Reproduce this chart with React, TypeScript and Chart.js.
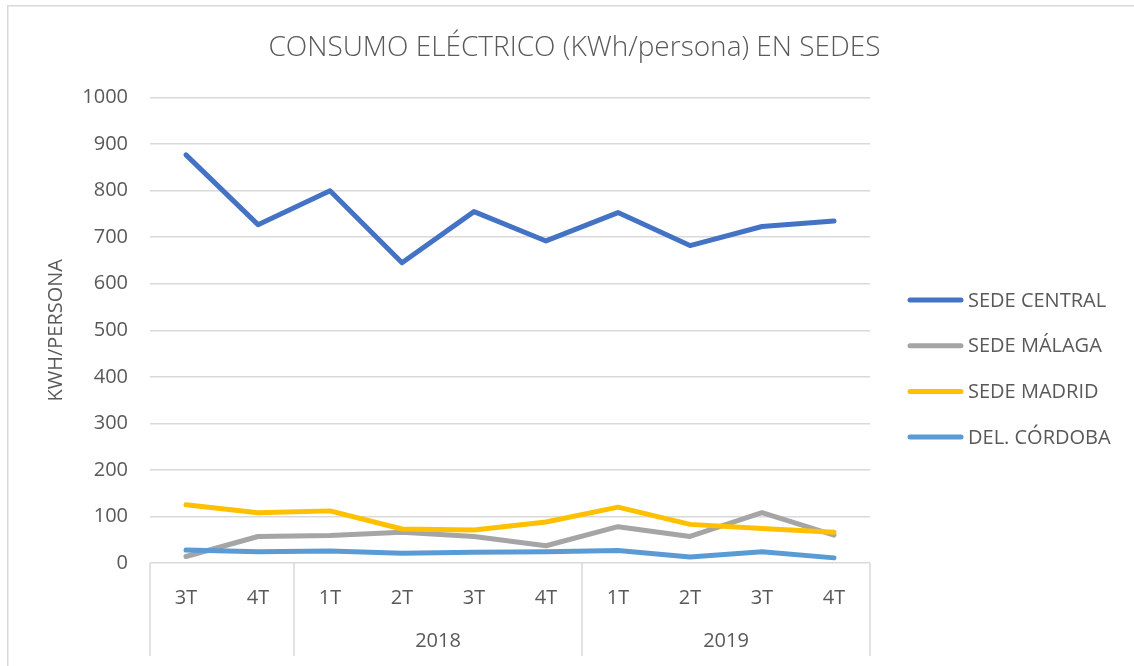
import React, { useEffect, useRef } from "react";
import { Chart, registerables } from "chart.js";

Chart.register(...registerables);

// ---- data ----
const quarterLabels = ["3T", "4T", "1T", "2T", "3T", "4T", "1T", "2T", "3T", "4T"];
const yearLabels = ["", "2018", "2019"];
const yearSpans = [2, 4, 4];
const seriesNames = ["SEDE CENTRAL", "SEDE MÁLAGA", "SEDE MADRID", "DEL. CÓRDOBA"];
const sedeCentral = [877, 727, 800, 645, 755, 692, 753, 682, 723, 735];
const sedeMalaga = [14, 57, 59, 66, 57, 37, 78, 57, 108, 60];
const sedeMadrid = [125, 108, 112, 73, 71, 88, 120, 83, 74, 66];
const delCordoba = [28, 24, 26, 21, 23, 24, 27, 13, 24, 11];
const yMin = 0;
const yMax = 1000;
const yStep = 100;

const TITLE = "CONSUMO ELÉCTRICO (KWh/persona) EN SEDES";
const Y_TITLE = "KWH/PERSONA";

// ---- styles ----
const TEXT = "#595959";
const GRID = "#d9d9d9";
const FONT = "'Open Sans', 'DejaVu Sans', sans-serif";
const COLORS = ["#4472C4", "#A5A5A5", "#FFC000", "#5B9BD5"];

const framePlugin = {
  id: "frame",
  beforeDraw(chart: any) {
    const { ctx, width, height } = chart;
    ctx.save();
    ctx.fillStyle = "#ffffff";
    ctx.fillRect(0, 0, width, height);
    ctx.fillStyle = GRID;
    ctx.fillRect(7, 5, width, 1.5);
    ctx.fillRect(7, 5, 1.5, height);
    ctx.restore();
  },
};

const groupAxisPlugin = {
  id: "groupAxis",
  afterDraw(chart: any) {
    const { ctx, chartArea } = chart;
    const x = chart.scales.x;
    const half = (x.getPixelForValue(1) - x.getPixelForValue(0)) / 2;
    const top = chartArea.bottom;
    const bottom = top + 93;
    ctx.save();
    ctx.strokeStyle = GRID;
    ctx.lineWidth = 1.5;
    ctx.fillStyle = TEXT;
    ctx.font = `20px ${FONT}`;
    ctx.textAlign = "center";
    ctx.textBaseline = "middle";
    let start = 0;
    const drawLine = (px: number) => {
      ctx.beginPath();
      ctx.moveTo(px, top);
      ctx.lineTo(px, bottom);
      ctx.stroke();
    };
    yearSpans.forEach((span, gi) => {
      const end = start + span - 1;
      drawLine(x.getPixelForValue(start) - half);
      const cx = (x.getPixelForValue(start) + x.getPixelForValue(end)) / 2;
      if (yearLabels[gi]) ctx.fillText(yearLabels[gi], cx, 641);
      start += span;
    });
    drawLine(x.getPixelForValue(start - 1) + half);
    ctx.restore();
  },
};

const legendPlugin = {
  id: "sideLegend",
  afterDraw(chart: any) {
    const { ctx } = chart;
    ctx.save();
    ctx.font = `20px ${FONT}`;
    ctx.textAlign = "left";
    ctx.textBaseline = "middle";
    ctx.lineCap = "round";
    ctx.lineWidth = 5;
    chart.data.datasets.forEach((ds: any, i: number) => {
      const y = 300 + i * 45.7;
      ctx.strokeStyle = ds.borderColor;
      ctx.beginPath();
      ctx.moveTo(910, y);
      ctx.lineTo(961, y);
      ctx.stroke();
      ctx.fillStyle = TEXT;
      ctx.fillText(ds.label, 968, y + 1);
    });
    ctx.restore();
  },
};

export default function App() {
  const canvasRef = useRef<HTMLCanvasElement | null>(null);

  useEffect(() => {
    document.body.style.margin = "0";
    const canvas = canvasRef.current;
    if (!canvas) return;
    const series = [sedeCentral, sedeMalaga, sedeMadrid, delCordoba];
    const chart = new Chart(canvas, {
      type: "line",
      data: {
        labels: quarterLabels,
        datasets: series.map((values, i) => ({
          label: seriesNames[i],
          data: values,
          borderColor: COLORS[i],
          backgroundColor: COLORS[i],
          borderWidth: 5,
          pointRadius: 0,
          tension: 0,
          borderCapStyle: "round",
          borderJoinStyle: "round",
          order: series.length - i,
          yAxisID: "y",
        })),
      },
      options: {
        responsive: false,
        animation: false,
        devicePixelRatio: 1,
        layout: { padding: { left: 15, right: 0, top: 0, bottom: 0 } },
        plugins: {
          legend: { display: false },
          tooltip: { enabled: false },
          title: {
            display: true,
            text: TITLE,
            color: TEXT,
            font: { family: FONT, size: 28, weight: 300 },
            padding: { top: 31, bottom: 33 },
          },
        },
        scales: {
          x: {
            offset: true,
            grid: { display: false, offset: true },
            border: { display: false },
            ticks: {
              color: TEXT,
              font: { family: FONT, size: 20 },
              padding: 15,
              maxRotation: 0,
              autoSkip: false,
            },
            afterFit: (s: any) => {
              s.height = 103;
            },
          },
          y: {
            min: yMin,
            max: yMax,
            ticks: {
              stepSize: yStep,
              color: TEXT,
              font: { family: FONT, size: 20 },
              padding: 22,
              callback: (v: any) => String(v),
            },
            grid: { color: GRID, lineWidth: 1.5, drawTicks: false },
            border: { display: false },
            title: {
              display: true,
              text: Y_TITLE,
              color: TEXT,
              font: { family: FONT, size: 20 },
              padding: { top: 29, bottom: 0 },
            },
            afterFit: (s: any) => {
              s.width = 135;
            },
          },
          yR: {
            position: "right",
            display: true,
            grid: { display: false },
            ticks: { display: false },
            border: { display: false },
            afterFit: (s: any) => {
              s.width = 264;
            },
          },
        },
      } as any,
      plugins: [framePlugin, groupAxisPlugin, legendPlugin],
    });
    return () => chart.destroy();
  }, []);

  return (
    <div style={{ position: "fixed", left: 0, top: 0, width: 1134, height: 666, background: "#fff" }}>
      <canvas ref={canvasRef} width={1134} height={666} style={{ display: "block" }} />
    </div>
  );
}
